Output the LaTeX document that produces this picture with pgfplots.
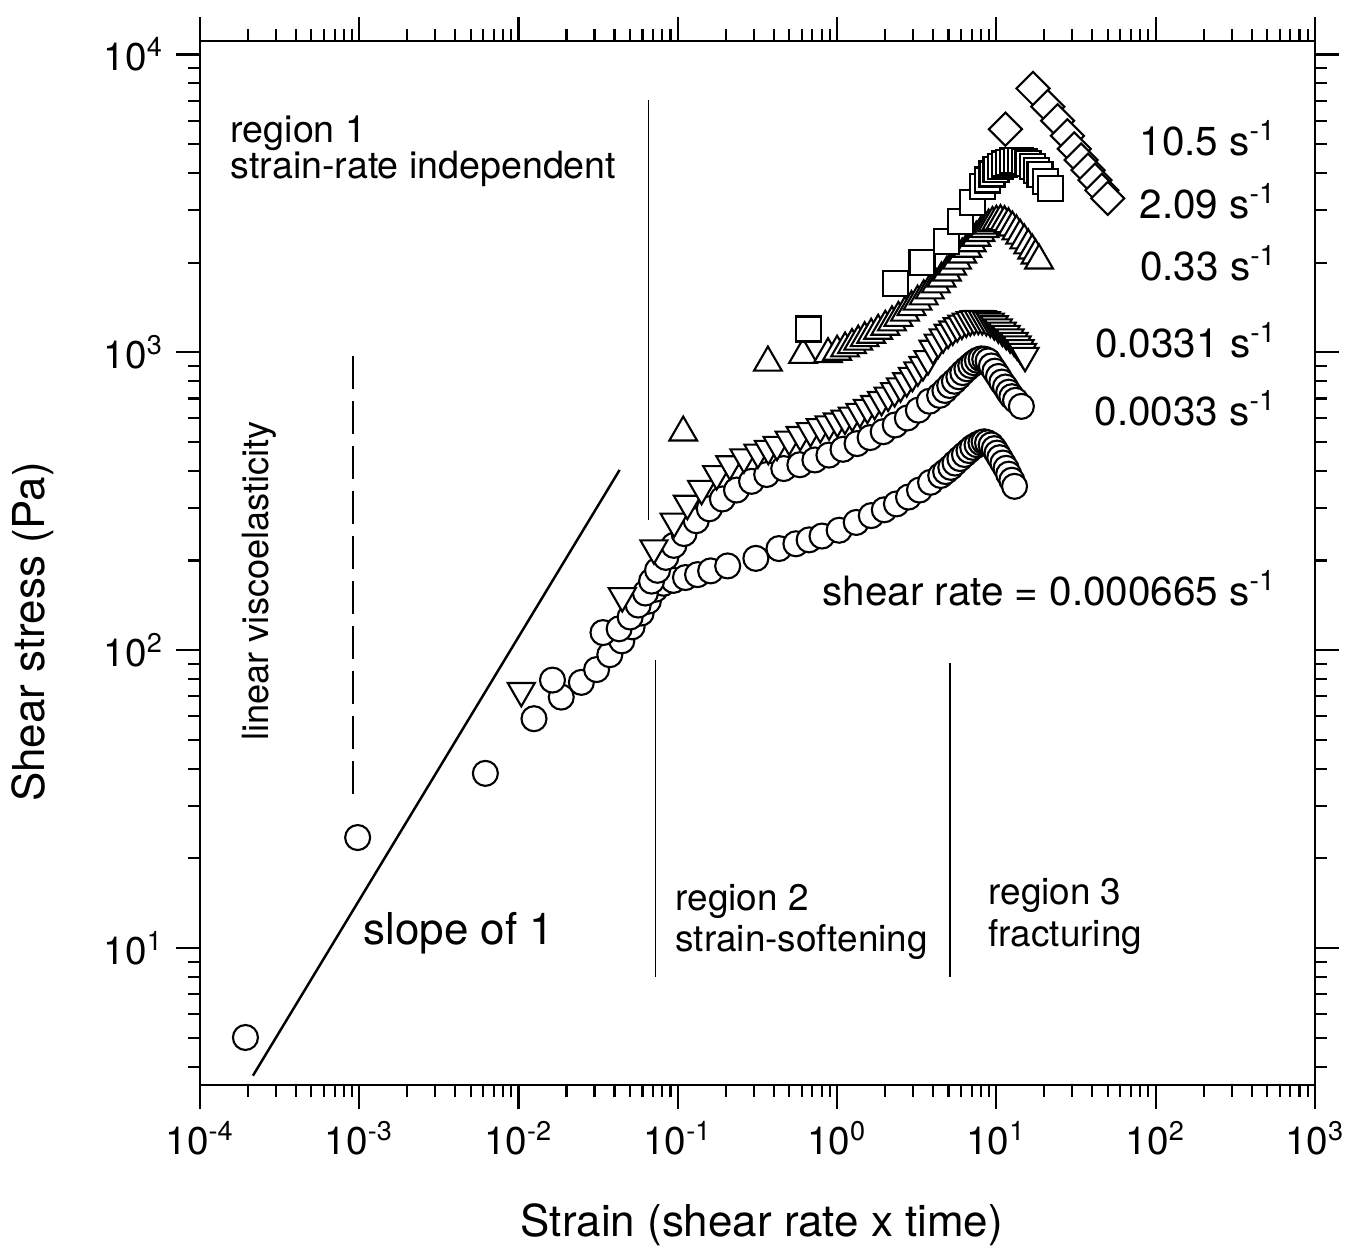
\documentclass[border=0pt]{standalone}
\usepackage{fontspec}
\setmainfont{TeX Gyre Heros}
\usepackage{pgfplots}
\pgfplotsset{compat=1.18}
\pgfplotsset{
  mk/.style={only marks, mark options={fill=white, draw=black, line width=0.6pt, solid}},
  mkrot/.style={only marks, mark options={fill=white, draw=black, line width=0.6pt, solid, rotate=#1}},
}
\begin{document}
\begin{tikzpicture}
\path[use as bounding box] (-20mm,-17.3mm) rectangle (115.6mm,108.5mm);
\begin{axis}[
  at={(0,0)}, anchor=south west,
  scale only axis, width=111.5mm, height=104.4mm,
  xmode=log, ymode=log, log basis x=10, log basis y=10,
  xmin=1e-4, xmax=1e3, ymin=3.47, ymax=11100,
  tick align=outside,
  major tick length=2.4mm, minor tick length=1.2mm,
  axis line style={line width=0.7pt},
  every tick/.style={line width=0.6pt, black},
  xticklabel={10\textsuperscript{\pgfmathparse{int(round(\tick))}\pgfmathresult}},
  yticklabel={10\textsuperscript{\pgfmathparse{int(round(\tick))}\pgfmathresult}},
  tick label style={font=\fontsize{11}{13}\selectfont},
  xlabel={Strain (shear rate x time)},
  ylabel={Shear stress (Pa)},
  label style={font=\fontsize{12.5}{15}\selectfont},
  xlabel style={at={(axis description cs:0.504,-0.134)}, anchor=center},
  ylabel style={at={(axis description cs:-0.150,0.434)}, anchor=center},
  clip=false,
]
% guide lines
\addplot[black, line width=0.7pt] coordinates {(2.15e-4,3.73) (0.0431,403)};
\addplot[black, line width=0.5pt, dash pattern=on 3.3mm off 1.2mm] coordinates {(9.15e-4,33) (9.15e-4,1003)};
\addplot[black, line width=0.5pt] coordinates {(0.0655,273) (0.0655,7018)};
\addplot[black, line width=0.5pt] coordinates {(0.0723,8.0) (0.0723,92.6)};
\addplot[black, line width=0.5pt] coordinates {(5.1,8.0) (5.1,90.3)};

% shear rate 0.000665 1/s
\addplot[mk, mark=*, mark size=1.25mm] coordinates {
(1.93e-4,5.01) (9.77e-4,23.5) (6.19e-3,38.6) (0.0125,58.9) (0.01854,69.6) (0.0248,78.0)
(0.0309,86.1) (0.0374,96.6) (0.0445,107.5) (0.0516,119.8) (0.0589,133.3) (0.0653,146.1)
(0.0723,160.2) (0.0813,167.8) (0.0940,171.6) (0.1117,175.4) (0.133,179.4) (0.1607,184.7)
(0.2056,191.9) (0.309,203.4) (0.4315,219.4) (0.551,227.7) (0.667,234.7) (0.804,241.7)
(1.03,252.8) (1.318,268.5) (1.639,283.1) (1.978,296.1) (2.357,309.9) (2.807,326.8)
(3.29,344.9) (3.86,366.2) (4.47,386) (4.8,398) (5.17,411) (5.5,425) (5.90,440) (6.3,454)
(6.73,468) (7.1,480) (7.56,489.6) (8.0,497) (8.37,501) (8.8,497) (9.27,489) (9.7,475)
(10.09,459) (10.5,443) (10.99,425) (11.5,408) (11.94,390) (12.5,372) (13.0,355)
};
% 0.0033 1/s
\addplot[mk, mark=*, mark size=1.25mm] coordinates {
(0.01633,79.4) (0.0339,114.6) (0.0428,118) (0.0502,129.3) (0.0564,141.8) (0.0626,155.6)
(0.0684,170.6) (0.0746,185.5) (0.0841,205) (0.0945,224.9) (0.1094,246.4) (0.1305,272.2)
(0.1576,298.4) (0.1905,321.9) (0.2336,344.9) (0.2904,369) (0.3614,389) (0.4624,407.3)
(0.5836,419.5) (0.7254,435.3) (0.8882,451.9) (1.089,472.6) (1.334,494) (1.611,517.4)
(1.947,541.5) (2.316,570.6) (2.759,602) (3.236,639.7) (3.80,685.4) (4.40,717) (4.75,745)
(5.09,774) (5.45,800) (5.81,828) (6.15,855) (6.53,881) (6.9,903) (7.23,923) (7.6,940)
(8.02,951) (8.45,948) (8.87,936) (9.3,900) (9.79,865) (10.3,830) (10.82,795) (11.4,765)
(11.94,735) (12.5,710) (13.18,690) (14.35,658.6)
};
% 0.0331 1/s
\addplot[mkrot=180, mark=triangle*, mark size=1.56mm] coordinates {
(0.0104,73.1) (0.0448,152.2) (0.0708,220.1) (0.0948,270.7) (0.1148,310.7) (0.141,348.6)
(0.1754,390.8) (0.2121,421.7) (0.260,444.6) (0.3183,461.4) (0.37,475) (0.4195,490)
(0.5,510) (0.586,528.6) (0.68,545) (0.784,561.6) (0.89,574) (1.003,587) (1.12,600)
(1.2455,614) (1.39,632) (1.549,652) (1.72,672) (1.900,693) (2.09,717) (2.296,742)
(2.5,770) (2.735,801) (2.97,835) (3.214,871) (3.46,908) (3.72,950) (4.0,1030) (4.31,1080)
(4.63,1125) (4.98,1165) (5.32,1195) (5.68,1225) (6.07,1250) (6.47,1270) (6.86,1285)
(7.26,1295) (7.7,1298) (8.15,1295) (8.65,1285) (9.16,1270) (9.7,1245) (10.28,1215)
(10.9,1185) (11.52,1155) (12.2,1125) (12.94,1095) (13.5,1065) (14.09,1035) (14.6,1005)
(15.14,975)
};
% 0.33 1/s
\addplot[mk, mark=triangle*, mark size=1.6mm] coordinates {
(0.1081,538) (0.3678,924) (0.611,980.8) (0.877,986) (1.0,1005) (1.122,1031) (1.24,1058)
(1.357,1087) (1.49,1116) (1.637,1146) (1.81,1182) (2.007,1219) (2.21,1261) (2.426,1305)
(2.67,1360) (2.931,1419) (3.2,1480) (3.497,1542) (3.82,1615) (4.165,1691) (4.52,1770)
(4.89,1854) (5.27,1942) (5.66,2033) (6.1,2130) (6.56,2228) (7.0,2325) (7.48,2425)
(7.95,2515) (8.41,2596) (8.93,2665) (9.45,2718) (10.0,2745) (10.61,2758) (11.25,2735)
(11.91,2692) (12.6,2625) (13.36,2549) (14.1,2465) (14.96,2376) (15.85,2287) (16.79,2198)
(17.6,2115) (18.54,2034)
};
% 2.09 1/s
\addplot[mk, mark=square*, mark size=1.25mm] coordinates {
(0.659,1198) (2.336,1697) (3.41,2008) (4.85,2355) (5.95,2746) (7.10,3177) (8.23,3593)
(8.8,3790) (9.38,3969) (9.95,4100) (10.55,4219) (11.2,4290) (11.86,4348) (12.55,4390)
(13.31,4413) (14.1,4400) (14.95,4375) (15.8,4300) (16.75,4209) (17.8,4080) (18.79,3954)
(20.46,3743) (21.98,3542)
};
% 10.5 1/s
\addplot[mkrot=45, mark=square*, mark size=1.17mm] coordinates {
(11.40,5614) (16.98,7691) (21.02,6681) (24.21,5992) (27.91,5333) (30.83,4819) (34.06,4423)
(37.63,4090) (41.6,3786) (45.9,3501) (50.0,3289)
};

% annotations
\begin{scope}[every node/.style={inner sep=0pt}]
\node[anchor=base west, font=\fontsize{10.7}{12}\selectfont] at (axis cs:1.543e-4,5060) {region 1};
\node[anchor=base west, font=\fontsize{10.7}{12}\selectfont] at (axis cs:1.543e-4,3833) {strain-rate independent};
\node[rotate=90, anchor=center, font=\fontsize{10.3}{12}\selectfont] at (axis cs:2.35e-4,171) {linear viscoelasticity};
\node[anchor=base west, font=\fontsize{12.5}{14}\selectfont] at (axis cs:1.054e-3,10.25) {slope of 1};
\node[anchor=base west, font=\fontsize{10.5}{12}\selectfont] at (axis cs:0.096,13.4) {region 2};
\node[anchor=base west, font=\fontsize{10.5}{12}\selectfont] at (axis cs:0.096,9.76) {strain-softening};
\node[anchor=base west, font=\fontsize{10.5}{12}\selectfont] at (axis cs:8.84,13.97) {region 3};
\node[anchor=base west, font=\fontsize{10.5}{12}\selectfont] at (axis cs:8.84,10.1) {fracturing};

\node[anchor=base east, font=\fontsize{11.5}{13}\selectfont] at (axis cs:580,4581) {10.5 s\textsuperscript{-1}};
\node[anchor=base east, font=\fontsize{11.5}{13}\selectfont] at (axis cs:580,2813) {2.09 s\textsuperscript{-1}};
\node[anchor=base east, font=\fontsize{11.5}{13}\selectfont] at (axis cs:585,1743) {0.33 s\textsuperscript{-1}};
\node[anchor=base east, font=\fontsize{11.5}{13}\selectfont] at (axis cs:585,961) {0.0331 s\textsuperscript{-1}};
\node[anchor=base east, font=\fontsize{11.5}{13}\selectfont] at (axis cs:580,568.6) {0.0033 s\textsuperscript{-1}};
\node[anchor=base east, font=\fontsize{11.5}{13}\selectfont] at (axis cs:580,141.5) {shear rate = 0.000665 s\textsuperscript{-1}};
\end{scope}
\end{axis}
\end{tikzpicture}
\end{document}
